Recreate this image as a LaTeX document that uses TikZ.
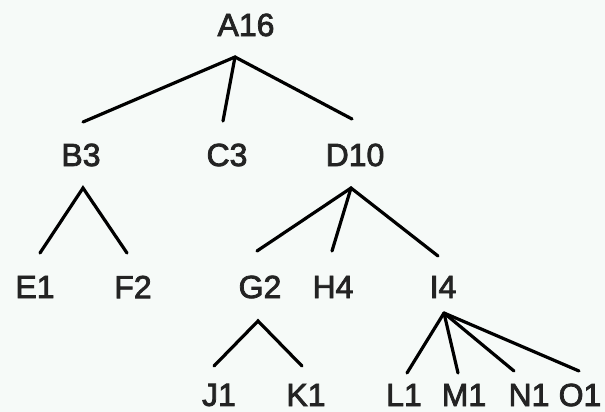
\documentclass[tikz,border=0pt]{standalone}
\usepackage{fontspec}
\setmainfont{Liberation Sans}[FakeBold=2.5]
\definecolor{bgc}{RGB}{246,250,248}
\definecolor{txt}{RGB}{35,35,35}
\begin{document}
\begin{tikzpicture}[x=1pt,y=-1pt,
  lbl/.style={inner sep=0pt,text=txt,font=\fontsize{32}{32}\selectfont},
  edge/.style={line width=3.2pt,line cap=round,black}]
\fill[bgc] (0,0) rectangle (605,412);
\useasboundingbox (0,0) rectangle (605,412);
% labels
\node[lbl] (A) at (246,25) {A16};
\node[lbl] (B) at (81,155) {B3};
\node[lbl] (C) at (227,155) {C3};
\node[lbl] (D) at (355,155) {D10};
\node[lbl] (E) at (35,287) {E1};
\node[lbl] (F) at (133,287) {F2};
\node[lbl] (G) at (260,287) {G2};
\node[lbl] (H) at (333,287) {H4};
\node[lbl] (I) at (443,287) {I4};
\node[lbl] (J) at (219,395) {J1};
\node[lbl] (K) at (306,395) {K1};
\node[lbl] (L) at (404,395) {L1};
\node[lbl] (M) at (464,395) {M1};
\node[lbl] (N) at (529,395) {N1};
\node[lbl] (O) at (580,395) {O1};
% connector end points
\coordinate (Aa) at (235,57);
\coordinate (Bt) at (83,122);
\coordinate (Ct) at (223,121);
\coordinate (Dt) at (352,119);
\coordinate (Ba) at (83,188);
\coordinate (Da) at (351,188);
\coordinate (Et) at (40,253);
\coordinate (Ft) at (127,253);
\coordinate (Gt) at (257,251);
\coordinate (Ht) at (332,251);
\coordinate (It) at (438,256);
\coordinate (Ga) at (258,321);
\coordinate (Ia) at (444,313);
\coordinate (Jt) at (214,366);
\coordinate (Kt) at (302,366);
\coordinate (Lt) at (407,373);
\coordinate (Mt) at (458,373);
\coordinate (Nt) at (514,371);
\coordinate (Ot) at (579,371);
% connectors
\draw[edge] (Bt) -- (Aa) -- (Dt);
\draw[edge] (Aa) -- (Ct);
\draw[edge] (Et) -- (Ba) -- (Ft);
\draw[edge] (Gt) -- (Da) -- (It);
\draw[edge] (Da) -- (Ht);
\draw[edge] (Jt) -- (Ga) -- (Kt);
\draw[edge] (Ia) -- (Lt);
\draw[edge] (Ia) -- (Mt);
\draw[edge] (Ia) -- (Nt);
\draw[edge] (Ia) -- (Ot);
\end{tikzpicture}
\end{document}
